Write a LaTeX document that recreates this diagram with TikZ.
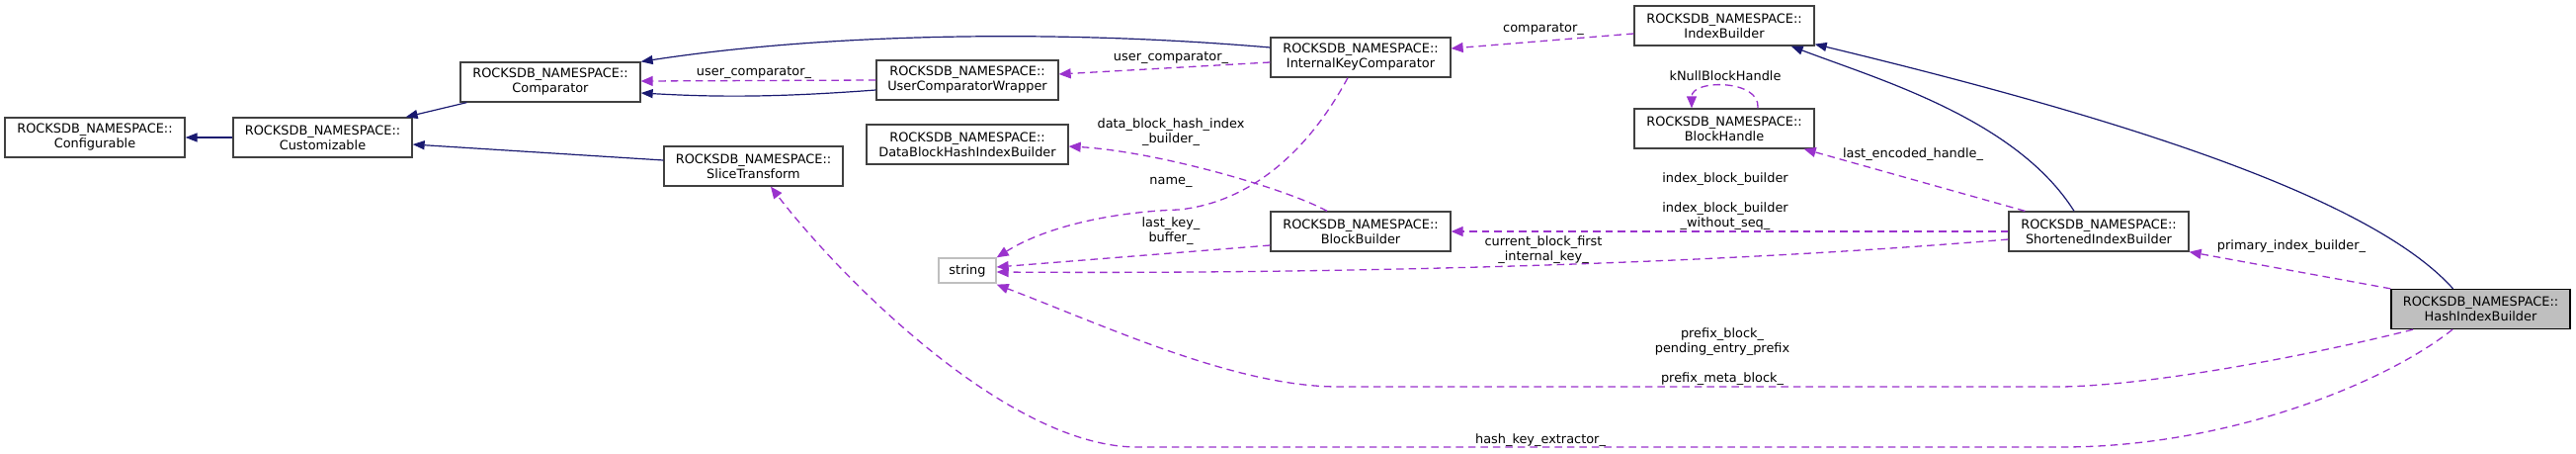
\documentclass[tikz,border=0pt]{standalone}
\usepackage{fontspec}
\setmainfont{DejaVu Sans}
\usetikzlibrary{arrows.meta}
\definecolor{inhblue}{HTML}{191970}
\definecolor{refpurple}{HTML}{9A32CD}
\definecolor{boxline}{HTML}{404040}
\definecolor{hibfill}{HTML}{BFBFBF}
\definecolor{strline}{HTML}{BFBFBF}
\begin{document}
\begin{tikzpicture}[x=1pt,y=-1pt,
  cls/.style={draw=boxline, line width=1.3pt, fill=white, minimum height=40pt, inner sep=0pt, align=center, font=\fontsize{12.9}{15}\selectfont},
  lbl/.style={inner sep=0pt, align=center, font=\fontsize{12.9}{15}\selectfont},
  inh/.style={draw=inhblue, line width=1.2pt, -{Triangle[length=12pt,width=9pt]}},
  ref/.style={draw=refpurple, line width=1.3pt, dash pattern=on 7.5pt off 5pt, -{Triangle[length=12pt,width=10pt]}}]
\useasboundingbox (0,0) rectangle (2607,458);
% nodes
\node[cls, minimum width=182pt] (cfg) at (96,139) {ROCKSDB\_NAMESPACE::\\Configurable};
\node[cls, minimum width=181pt] (cust) at (326.5,139) {ROCKSDB\_NAMESPACE::\\Customizable};
\node[cls, minimum width=182pt] (cmp) at (557,83) {ROCKSDB\_NAMESPACE::\\Comparator};
\node[cls, minimum width=184pt] (ucw) at (979,81) {ROCKSDB\_NAMESPACE::\\UserComparatorWrapper};
\node[cls, minimum width=182pt] (ikc) at (1377,58) {ROCKSDB\_NAMESPACE::\\InternalKeyComparator};
\node[cls, minimum width=204pt] (dbh) at (979,146) {ROCKSDB\_NAMESPACE::\\DataBlockHashIndexBuilder};
\node[cls, minimum width=181pt] (st) at (762.5,168) {ROCKSDB\_NAMESPACE::\\SliceTransform};
\node[cls, draw=strline, minimum width=58pt, minimum height=25pt] (str) at (979,273.5) {string};
\node[cls, minimum width=182pt] (bb) at (1377,234) {ROCKSDB\_NAMESPACE::\\BlockBuilder};
\node[cls, minimum width=182pt] (ib) at (1745,26) {ROCKSDB\_NAMESPACE::\\IndexBuilder};
\node[cls, minimum width=182pt] (bh) at (1745,130) {ROCKSDB\_NAMESPACE::\\BlockHandle};
\node[cls, minimum width=182pt] (sib) at (2124,234) {ROCKSDB\_NAMESPACE::\\ShortenedIndexBuilder};
\node[cls, fill=hibfill, draw=black, minimum width=181pt] (hib) at (2510.5,312.5) {ROCKSDB\_NAMESPACE::\\HashIndexBuilder};
% inheritance
\draw[inh] (cust.west) -- (cfg.east);
\draw[inh] ([shift={(7,0)}]cmp.south west) -- ([shift={(-7,0)}]cust.north east);
\draw[inh] ([shift={(0,-6)}]st.west) -- ([shift={(0,7)}]cust.east);
\draw[inh] ([shift={(0,10)}]ucw.west) .. controls (780,99) and (720,98) .. ([shift={(0,11)}]cmp.east);
\draw[inh] ([shift={(0,-10)}]ikc.west) .. controls (1050,28) and (820,36) .. (cmp.north east);
\draw[inh] ([shift={(-25,0)}]sib.north) .. controls (2040,120) and (1900,80) .. ([shift={(-24,0)}]ib.south east);
\draw[inh] ([shift={(-28,0)}]hib.north) .. controls (2400,200) and (2150,120) .. ([shift={(0,-2)}]ib.south east);
% references
\draw[ref] ([shift={(0,5)}]ikc.west) -- ([shift={(0,-6)}]ucw.east);
\node[lbl] (l1) at (1185,58) {user\_comparator\_};
\draw[ref] (ucw.west) -- ([shift={(0,-1)}]cmp.east);
\node[lbl] (l2) at (763,73) {user\_comparator\_};
\draw[ref] ([shift={(0,8)}]ib.west) -- ([shift={(0,-9)}]ikc.east);
\node[lbl] (l3) at (1562,29) {comparator\_};
\draw[ref] ([shift={(34,0)}]bh.north) .. controls (1782,80) and (1712,80) .. ([shift={(-33,0)}]bh.north);
\node[lbl] (l4) at (1746,77) {kNullBlockHandle};
\draw[ref] ([shift={(17,0)}]sib.north west) -- ([shift={(-11,0)}]bh.south east);
\node[lbl] (l5) at (1936,156) {last\_encoded\_handle\_};
\draw[ref] (sib.west) -- (bb.east);
\node[lbl] (l6) at (1746,204) {index\_block\_builder\\\strut\\index\_block\_builder\\\_without\_seq\_};
\draw[ref] ([shift={(0,8)}]sib.west) .. controls (1700,270) and (1300,277) .. ([shift={(0,1.5)}]str.east);
\node[lbl] (l7) at (1562,253) {current\_block\_first\\\_internal\_key\_};
\draw[ref] ([shift={(0,14)}]bb.west) -- ([shift={(0,-3.5)}]str.east);
\node[lbl] (l8) at (1185,234) {last\_key\_\\buffer\_};
\draw[ref] ([shift={(-13,0)}]ikc.south) .. controls (1320,160) and (1260,205) .. (1193,212) .. controls (1130,214) and (1060,228) .. (str.north east);
\node[lbl] (l9) at (1185,184) {name\_};
\draw[ref] ([shift={(-34,0)}]bb.north) .. controls (1300,190) and (1170,153) .. ([shift={(0,2)}]dbh.east);
\node[lbl] (l10) at (1185,134) {data\_block\_hash\_index\\\_builder\_};
\draw[ref] (hib.north west) -- (sib.south east);
\node[lbl] (l11) at (2319,249) {primary\_index\_builder\_};
\draw[ref] ([shift={(-68.5,0)}]hib.south) .. controls (2360,354) and (2190,389) .. (2087,391) -- (1355,391) .. controls (1250,391) and (1120,330) .. ([shift={(0,1)}]str.south east);
\node[lbl] (l12) at (1743,360.5) {prefix\_block\_\\pending\_entry\_prefix\\\strut\\prefix\_meta\_block\_};
\draw[ref] ([shift={(-28.5,0)}]hib.south) .. controls (2410,390) and (2250,452) .. (2087,452) -- (1151,452) .. controls (1020,452) and (850,280) .. ([shift={(17.5,0)}]st.south);
\node[lbl] (l13) at (1559,445) {hash\_key\_extractor\_};
\end{tikzpicture}
\end{document}
